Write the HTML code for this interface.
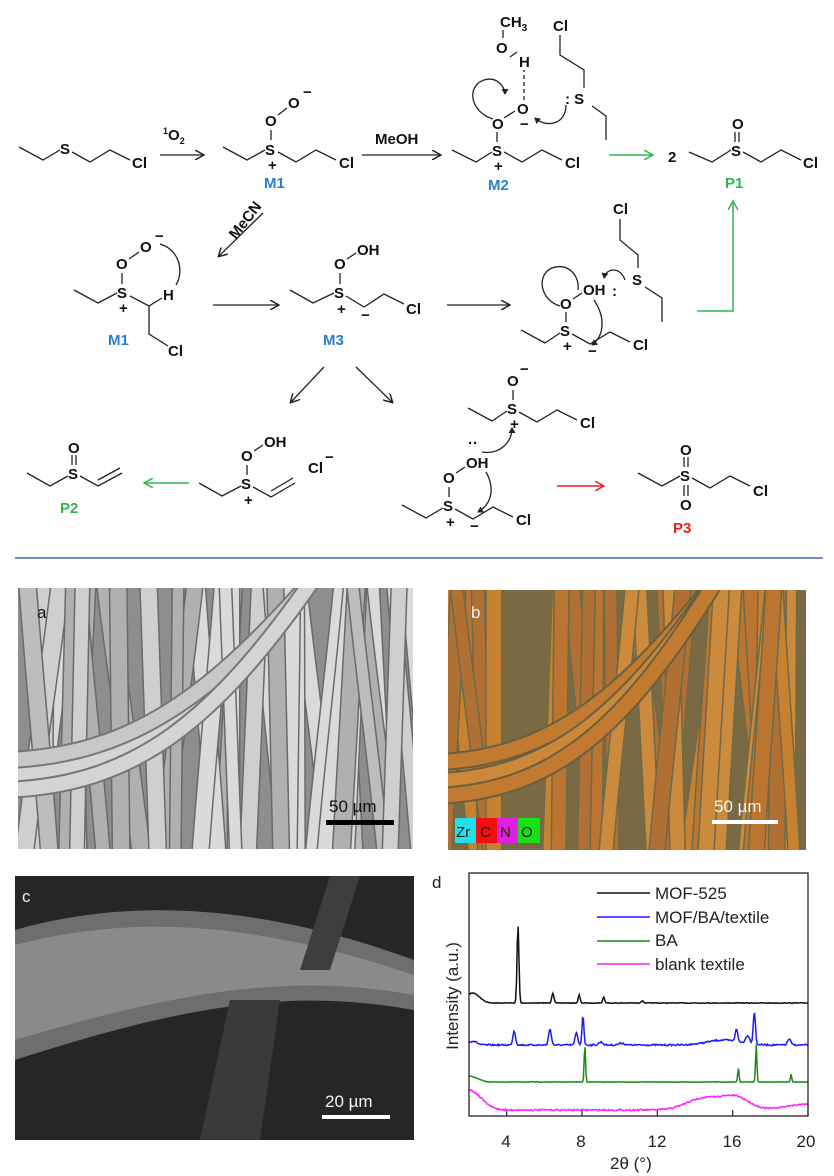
<!DOCTYPE html>
<html><head><meta charset="utf-8"><style>
html,body{margin:0;padding:0;background:#fff}
svg{display:block}
.t{font-family:"Liberation Sans",sans-serif;font-weight:bold;font-size:15px;fill:#111}
.b{stroke:#222;stroke-width:1.3;fill:none}
</style></head><body>
<svg id="s" width="834" height="1176" viewBox="0 0 834 1176" xmlns="http://www.w3.org/2000/svg">
<defs>
<marker id="ah" markerWidth="10" markerHeight="10" refX="8" refY="5" orient="auto" markerUnits="userSpaceOnUse"><path d="M0,0 L9,5 L0,10" fill="none" stroke="#222" stroke-width="1.5"/></marker>
<marker id="ag" markerWidth="10" markerHeight="10" refX="8" refY="5" orient="auto" markerUnits="userSpaceOnUse"><path d="M0,0 L9,5 L0,10" fill="none" stroke="#2db84d" stroke-width="1.5"/></marker>
<marker id="ar" markerWidth="10" markerHeight="10" refX="8" refY="5" orient="auto" markerUnits="userSpaceOnUse"><path d="M0,0 L9,5 L0,10" fill="none" stroke="#e82020" stroke-width="1.5"/></marker>
<marker id="sm" markerWidth="7" markerHeight="7" refX="5" refY="3.5" orient="auto" markerUnits="userSpaceOnUse"><path d="M0,0 L6,3.5 L0,7Z" fill="#222"/></marker>
<clipPath id="ca"><rect x="18" y="588" width="395" height="261"/></clipPath>
<clipPath id="cb"><rect x="448" y="590" width="358" height="260"/></clipPath>
<clipPath id="cc"><rect x="15" y="876" width="399" height="264"/></clipPath>
</defs>

<!-- ===== Scheme ===== -->
<polyline class="b" points="19,147 43,160 60,150"/><text class="t" x="60" y="154">S</text>
<polyline class="b" points="72,152 90,162 110,150 130,160"/><text class="t" x="132" y="168">Cl</text>
<line class="b" x1="160" y1="155" x2="203" y2="155" marker-end="url(#ah)"/>
<text class="t" x="163" y="140" font-size="14"><tspan font-size="9" dy="-6">1</tspan><tspan dy="6">O</tspan><tspan font-size="9" dy="4">2</tspan></text>

<polyline class="b" points="223,147 247,160 265,150"/><text class="t" x="265" y="155">S</text>
<text class="t" x="268" y="170" font-size="11">+</text>
<line class="b" x1="271" y1="140" x2="271" y2="130"/><text class="t" x="265" y="126">O</text>
<line class="b" x1="278" y1="115" x2="287" y2="108"/><text class="t" x="288" y="108">O</text><text class="t" x="303" y="97" font-size="11">−</text>
<polyline class="b" points="278,152 296,162 316,150 336,160"/><text class="t" x="339" y="168">Cl</text>
<text class="t" x="264" y="188" style="fill:#2b7fd0" font-size="17">M1</text>
<line class="b" x1="362" y1="155" x2="440" y2="155" marker-end="url(#ah)"/><text class="t" x="375" y="144">MeOH</text>

<polyline class="b" points="452,150 476,162 492,152"/><text class="t" x="492" y="156">S</text>
<text class="t" x="494" y="171" font-size="11">+</text>
<line class="b" x1="497" y1="142" x2="497" y2="132"/><text class="t" x="492" y="129">O</text>
<line class="b" x1="504" y1="118" x2="515" y2="111"/><text class="t" x="517" y="114">O</text><text class="t" x="520" y="129" font-size="11">−</text>
<line x1="524" y1="100" x2="524" y2="70" stroke="#222" stroke-width="1.3" stroke-dasharray="4,3"/>
<text class="t" x="519" y="67">H</text>
<line class="b" x1="510" y1="57" x2="517" y2="52"/><text class="t" x="496" y="53">O</text>
<line class="b" x1="503" y1="38" x2="503" y2="30"/><text class="t" x="500" y="27">CH<tspan font-size="10" dy="4">3</tspan></text>
<polyline class="b" points="504,152 522,162 542,150 562,160"/><text class="t" x="565" y="168">Cl</text>
<text class="t" x="488" y="190" style="fill:#2b7fd0" font-size="17">M2</text>
<text class="t" x="553" y="31">Cl</text>
<polyline class="b" points="560,35 560,55 584,70 584,88"/>
<text class="t" x="565" y="104">: S</text>
<polyline class="b" points="592,106 606,116 606,140"/>
<path class="b" d="M493,119 C470,112 466,86 484,80 C496,76 505,86 505,94" marker-end="url(#sm)"/>
<path class="b" d="M566,105 C566,125 546,128 535,118" marker-end="url(#sm)"/>
<line x1="609" y1="155" x2="652" y2="155" stroke="#2db84d" stroke-width="1.5" marker-end="url(#ag)"/>
<text class="t" x="668" y="162">2</text>

<polyline class="b" points="689,152 712,162 731,150"/><text class="t" x="731" y="156">S</text>
<line class="b" x1="735" y1="142" x2="735" y2="132"/><line class="b" x1="739" y1="142" x2="739" y2="132"/>
<text class="t" x="732" y="129">O</text>
<polyline class="b" points="743,152 761,162 781,150 801,160"/><text class="t" x="803" y="168">Cl</text>
<text class="t" x="725" y="188" style="fill:#2db84d" font-size="17">P1</text>
<polyline points="697,311 733,311 733,202" fill="none" stroke="#2db84d" stroke-width="1.5" marker-end="url(#ag)"/>

<line class="b" x1="263" y1="213" x2="219" y2="256" marker-end="url(#ah)"/>
<text class="t" x="0" y="0" transform="translate(236,240) rotate(-52)">MeCN</text>

<polyline class="b" points="74,290 98,303 117,293"/><text class="t" x="117" y="298">S</text>
<text class="t" x="119" y="313" font-size="11">+</text>
<line class="b" x1="122" y1="284" x2="122" y2="273"/><text class="t" x="116" y="269">O</text>
<line class="b" x1="129" y1="259" x2="139" y2="252"/><text class="t" x="140" y="252">O</text><text class="t" x="155" y="241" font-size="11">−</text>
<polyline class="b" points="130,296 149,306 162,298"/><text class="t" x="163" y="300">H</text>
<polyline class="b" points="149,306 149,334 168,346"/><text class="t" x="168" y="356">Cl</text>
<path class="b" d="M176,285 C184,272 180,250 160,244"/>
<text class="t" x="108" y="345" style="fill:#2b7fd0" font-size="17">M1</text>
<line class="b" x1="213" y1="305" x2="278" y2="305" marker-end="url(#ah)"/>

<polyline class="b" points="290,290 313,303 334,293"/><text class="t" x="334" y="298">S</text>
<text class="t" x="337" y="314" font-size="11">+</text>
<line class="b" x1="340" y1="284" x2="340" y2="273"/><text class="t" x="334" y="269">O</text>
<line class="b" x1="347" y1="259" x2="356" y2="253"/><text class="t" x="357" y="255">OH</text>
<polyline class="b" points="346,296 364,307 384,294 404,304"/><text class="t" x="406" y="314">Cl</text>
<text class="t" x="361" y="320" font-size="11">−</text>
<text class="t" x="323" y="345" style="fill:#2b7fd0" font-size="17">M3</text>
<line class="b" x1="447" y1="305" x2="509" y2="305" marker-end="url(#ah)"/>

<polyline class="b" points="521,330 545,343 560,333"/><text class="t" x="560" y="336">S</text>
<text class="t" x="563" y="351" font-size="11">+</text>
<line class="b" x1="566" y1="322" x2="566" y2="312"/><text class="t" x="560" y="309">O</text>
<line class="b" x1="573" y1="299" x2="582" y2="293"/><text class="t" x="583" y="295">OH</text>
<text class="t" x="612" y="296">:</text><text class="t" x="632" y="285">S</text>
<polyline class="b" points="572,334 590,344 610,332 630,342"/><text class="t" x="633" y="350">Cl</text>
<text class="t" x="588" y="356" font-size="11">−</text>
<text class="t" x="613" y="214">Cl</text>
<polyline class="b" points="620,219 620,240 638,255 638,268"/>
<polyline class="b" points="645,287 662,298 662,322"/>
<path class="b" d="M560,306 C540,300 536,275 552,268 C568,262 580,276 578,290"/>
<path class="b" d="M594,300 C606,318 604,336 592,345" marker-end="url(#sm)"/>
<path class="b" d="M625,280 C620,266 606,268 604,278" marker-end="url(#sm)"/>

<line class="b" x1="324" y1="367" x2="291" y2="402" marker-end="url(#ah)"/>
<line class="b" x1="356" y1="367" x2="392" y2="402" marker-end="url(#ah)"/>

<polyline class="b" points="27,473 50,486 68,476"/><text class="t" x="68" y="479">S</text>
<line class="b" x1="72" y1="465" x2="72" y2="455"/><line class="b" x1="76" y1="465" x2="76" y2="455"/>
<text class="t" x="68" y="453">O</text>
<polyline class="b" points="80,476 98,486 122,473"/><line class="b" x1="98" y1="480" x2="120" y2="468"/>
<text class="t" x="60" y="513" style="fill:#2db84d" font-size="17">P2</text>
<line x1="189" y1="483" x2="145" y2="483" stroke="#2db84d" stroke-width="1.5" marker-end="url(#ag)"/>

<polyline class="b" points="199,483 222,496 241,486"/><text class="t" x="241" y="489">S</text>
<text class="t" x="244" y="505" font-size="11">+</text>
<line class="b" x1="247" y1="475" x2="247" y2="465"/><text class="t" x="241" y="461">O</text>
<line class="b" x1="254" y1="451" x2="263" y2="445"/><text class="t" x="264" y="447">OH</text>
<polyline class="b" points="253,487 271,497 295,483"/><line class="b" x1="271" y1="491" x2="293" y2="478"/>
<text class="t" x="308" y="473">Cl</text><text class="t" x="325" y="462" font-size="11">−</text>

<polyline class="b" points="468,408 492,421 507,411"/><text class="t" x="507" y="414">S</text>
<text class="t" x="510" y="429" font-size="11">+</text>
<line class="b" x1="513" y1="400" x2="513" y2="390"/><text class="t" x="507" y="386">O</text><text class="t" x="520" y="374" font-size="11">−</text>
<polyline class="b" points="519,412 537,422 557,410 577,420"/><text class="t" x="580" y="428">Cl</text>
<text class="t" x="468" y="448" font-size="13">··</text>
<path class="b" d="M482,452 C500,455 512,442 512,428" marker-end="url(#sm)"/>
<polyline class="b" points="402,505 426,518 443,508"/><text class="t" x="443" y="511">S</text>
<text class="t" x="446" y="527" font-size="11">+</text>
<line class="b" x1="449" y1="497" x2="449" y2="487"/><text class="t" x="443" y="483">O</text>
<line class="b" x1="456" y1="473" x2="465" y2="467"/><text class="t" x="466" y="468">OH</text>
<polyline class="b" points="455,509 473,519 493,507 513,517"/><text class="t" x="516" y="525">Cl</text>
<text class="t" x="470" y="531" font-size="11">−</text>
<path class="b" d="M486,472 C495,488 492,504 478,512" marker-end="url(#sm)"/>
<line x1="557" y1="486" x2="603" y2="486" stroke="#e82020" stroke-width="1.5" marker-end="url(#ar)"/>

<polyline class="b" points="638,473 662,486 680,476"/><text class="t" x="680" y="481">S</text>
<line class="b" x1="684" y1="467" x2="684" y2="457"/><line class="b" x1="688" y1="467" x2="688" y2="457"/>
<text class="t" x="680" y="455">O</text>
<line class="b" x1="684" y1="485" x2="684" y2="496"/><line class="b" x1="688" y1="485" x2="688" y2="496"/>
<text class="t" x="680" y="510">O</text>
<polyline class="b" points="692,478 710,488 730,476 750,486"/><text class="t" x="753" y="496">Cl</text>
<text class="t" x="673" y="533" style="fill:#e82020" font-size="17">P3</text>

<line x1="15" y1="558" x2="823" y2="558" stroke="#4a6aa8" stroke-width="1.5"/>

<!-- ===== Photos ===== -->
<g clip-path="url(#ca)"><rect x="18" y="588" width="395" height="261" fill="#8e8e8e"/><g id="fa"></g></g>
<text x="37" y="618" font-family="Liberation Sans,sans-serif" font-size="17" fill="#111">a</text>
<rect x="326" y="820" width="68" height="5" fill="#000"/>
<text x="329" y="812" font-family="Liberation Sans,sans-serif" font-size="17" fill="#111">50 µm</text>

<g clip-path="url(#cb)"><rect x="448" y="590" width="358" height="260" fill="#7a6a44"/><g id="fb"></g></g>
<text x="471" y="618" font-family="Liberation Sans,sans-serif" font-size="17" fill="#eee">b</text>
<rect x="712" y="820" width="66" height="4" fill="#fff"/>
<text x="714" y="812" font-family="Liberation Sans,sans-serif" font-size="17" fill="#f4f4f4">50 µm</text>
<rect x="455" y="818" width="21" height="25" fill="#22e0e8"/><rect x="476" y="818" width="21" height="25" fill="#f01010"/>
<rect x="497" y="818" width="21" height="25" fill="#e020e0"/><rect x="518" y="818" width="22" height="25" fill="#18e018"/>
<g font-family="Liberation Sans,sans-serif" font-size="15" fill="#222"><text x="456" y="837">Zr</text><text x="480" y="837">C</text><text x="500" y="837">N</text><text x="521" y="837">O</text></g>

<g clip-path="url(#cc)"><rect x="15" y="876" width="399" height="264" fill="#262626"/><g id="fc"></g></g>
<text x="22" y="902" font-family="Liberation Sans,sans-serif" font-size="17" fill="#eee">c</text>
<rect x="322" y="1115" width="68" height="4" fill="#fff"/>
<text x="325" y="1107" font-family="Liberation Sans,sans-serif" font-size="17" fill="#f4f4f4">20 µm</text>

<!-- ===== Plot d ===== -->
<g id="plot"></g>
<rect x="469" y="873" width="339" height="243" fill="none" stroke="#222" stroke-width="1.3"/>
<g font-family="Liberation Sans,sans-serif" font-size="17" fill="#222">
<text x="432" y="888">d</text>
<g text-anchor="middle"><text x="506" y="1147">4</text><text x="581" y="1147">8</text><text x="657" y="1147">12</text><text x="732" y="1147">16</text><text x="806" y="1147">20</text></g>
<text x="610" y="1169">2θ (°)</text>
<text transform="translate(458,996) rotate(-90)" text-anchor="middle">Intensity (a.u.)</text>
<text x="655" y="899">MOF-525</text><text x="655" y="923">MOF/BA/textile</text><text x="655" y="946">BA</text><text x="655" y="970">blank textile</text>
</g>
<line x1="597" y1="893" x2="650" y2="893" stroke="#111" stroke-width="1.5"/>
<line x1="597" y1="917" x2="650" y2="917" stroke="#1a1aff" stroke-width="1.5"/>
<line x1="597" y1="941" x2="650" y2="941" stroke="#1a8a1a" stroke-width="1.5"/>
<line x1="597" y1="964" x2="650" y2="964" stroke="#ff20ff" stroke-width="1.5"/>
</svg>
<script>
(function(){
var NS="http://www.w3.org/2000/svg";
function el(p,n,a){var e=document.createElementNS(NS,n);for(var k in a)e.setAttribute(k,a[k]);p.appendChild(e);return e;}
var seed=7;function r(){seed=(seed*16807)%2147483647;return seed/2147483647;}
var pl=document.getElementById("plot");
function X(v){return 469+(v-2)*339/18;}
for(var v=4;v<=20;v+=4){el(pl,"line",{x1:X(v),y1:1116,x2:X(v),y2:1110,stroke:"#222","stroke-width":1.2});}
function curve(base,peaks,col,noise,extra){
 var pts=[];for(var i=0;i<=400;i++){var x=2+18*i/400;var y=base;
  for(var j=0;j<peaks.length;j++){var p=peaks[j];y-=p[1]*Math.exp(-Math.pow((x-p[0])/p[2],2));}
  if(extra)y+=extra(x);y+=(r()-0.5)*noise;pts.push(X(x).toFixed(1)+","+y.toFixed(1));}
 el(pl,"polyline",{points:pts.join(" "),fill:"none",stroke:col,"stroke-width":1.5});}
curve(1003,[[4.6,78,0.07],[6.45,10,0.08],[7.85,8,0.07],[9.15,6,0.07],[11.2,2,0.1],[2.2,10,0.5]],"#111",0.6);
curve(1045,[[4.4,14,0.1],[6.3,16,0.1],[7.7,12,0.1],[8.05,30,0.07],[9.0,3,0.15],[10.1,2,0.2],[16.2,13,0.09],[16.8,8,0.15],[17.15,33,0.08],[19.0,6,0.12],[15.5,5,1.2],[2.2,4,0.3]],"#1a1aff",1.5);
curve(1082,[[8.15,38,0.05],[16.3,14,0.05],[17.25,38,0.05],[19.1,8,0.05],[2.1,3,0.5]],"#1a8a1a",0.4,function(x){return (x<3)?-(3-x)*3:0;});
curve(1110,[[2.0,20,0.9],[14.5,12,1.3],[16.2,12,1.0],[20,6,1.6]],"#ff20ff",1.5);
function fibers(g,n,cols,edge,w0,w1,x0,y0,W,H){
 for(var i=0;i<n;i++){var x=x0+r()*W;var dx=(r()-0.5)*80;var w=w0+r()*(w1-w0);
  var d="M"+x+","+(y0-10)+" C"+(x+dx*0.3)+","+(y0+H*0.33)+" "+(x+dx*0.7)+","+(y0+H*0.66)+" "+(x+dx)+","+(y0+H+10);
  el(g,"path",{d:d,fill:"none",stroke:edge,"stroke-width":w+3});
  el(g,"path",{d:d,fill:"none",stroke:cols[Math.floor(r()*cols.length)],"stroke-width":w});}
}
function across(g,cols,edge,x0,y0,W,H,k){
 for(var i=0;i<k;i++){var y=y0+H*(0.55+r()*0.4);var d="M"+(x0-10)+","+(y+10)+" C"+(x0+W*0.3)+","+(y+5)+" "+(x0+W*0.5)+","+(y-60)+" "+(x0+W*0.75)+","+(y0-10);
  el(g,"path",{d:d,fill:"none",stroke:edge,"stroke-width":18});el(g,"path",{d:d,fill:"none",stroke:cols[i%cols.length],"stroke-width":14});}
}
var fa=document.getElementById("fa");
fibers(fa,40,["#cfcfcf","#bdbdbd","#dadada","#b0b0b0"],"#6a6a6a",10,18,18,588,395,261);
across(fa,["#d4d4d4","#c8c8c8"],"#777",18,588,395,261,3);
var fb=document.getElementById("fb");
fibers(fb,36,["#c8812e","#bb7530","#cc8a3c","#b07034"],"#6e6a48",10,16,448,590,358,260);
across(fb,["#c27a30","#cc8838"],"#6a6040",448,590,358,260,3);
var fc=document.getElementById("fc");
el(fc,"path",{d:"M15,930 C120,900 250,900 414,960 L414,1010 C300,990 200,1000 15,1060 Z",fill:"#6e6e6e"});
el(fc,"path",{d:"M15,945 C130,915 250,920 414,975 L414,995 C300,975 200,985 15,1040 Z",fill:"#8a8a8a"});
el(fc,"path",{d:"M200,1140 L230,1000 L280,1000 L260,1140 Z",fill:"#3a3a3a"});
el(fc,"path",{d:"M330,876 L360,876 L330,970 L300,970 Z",fill:"#3e3e3e"});
})();
</script>
</body></html>
